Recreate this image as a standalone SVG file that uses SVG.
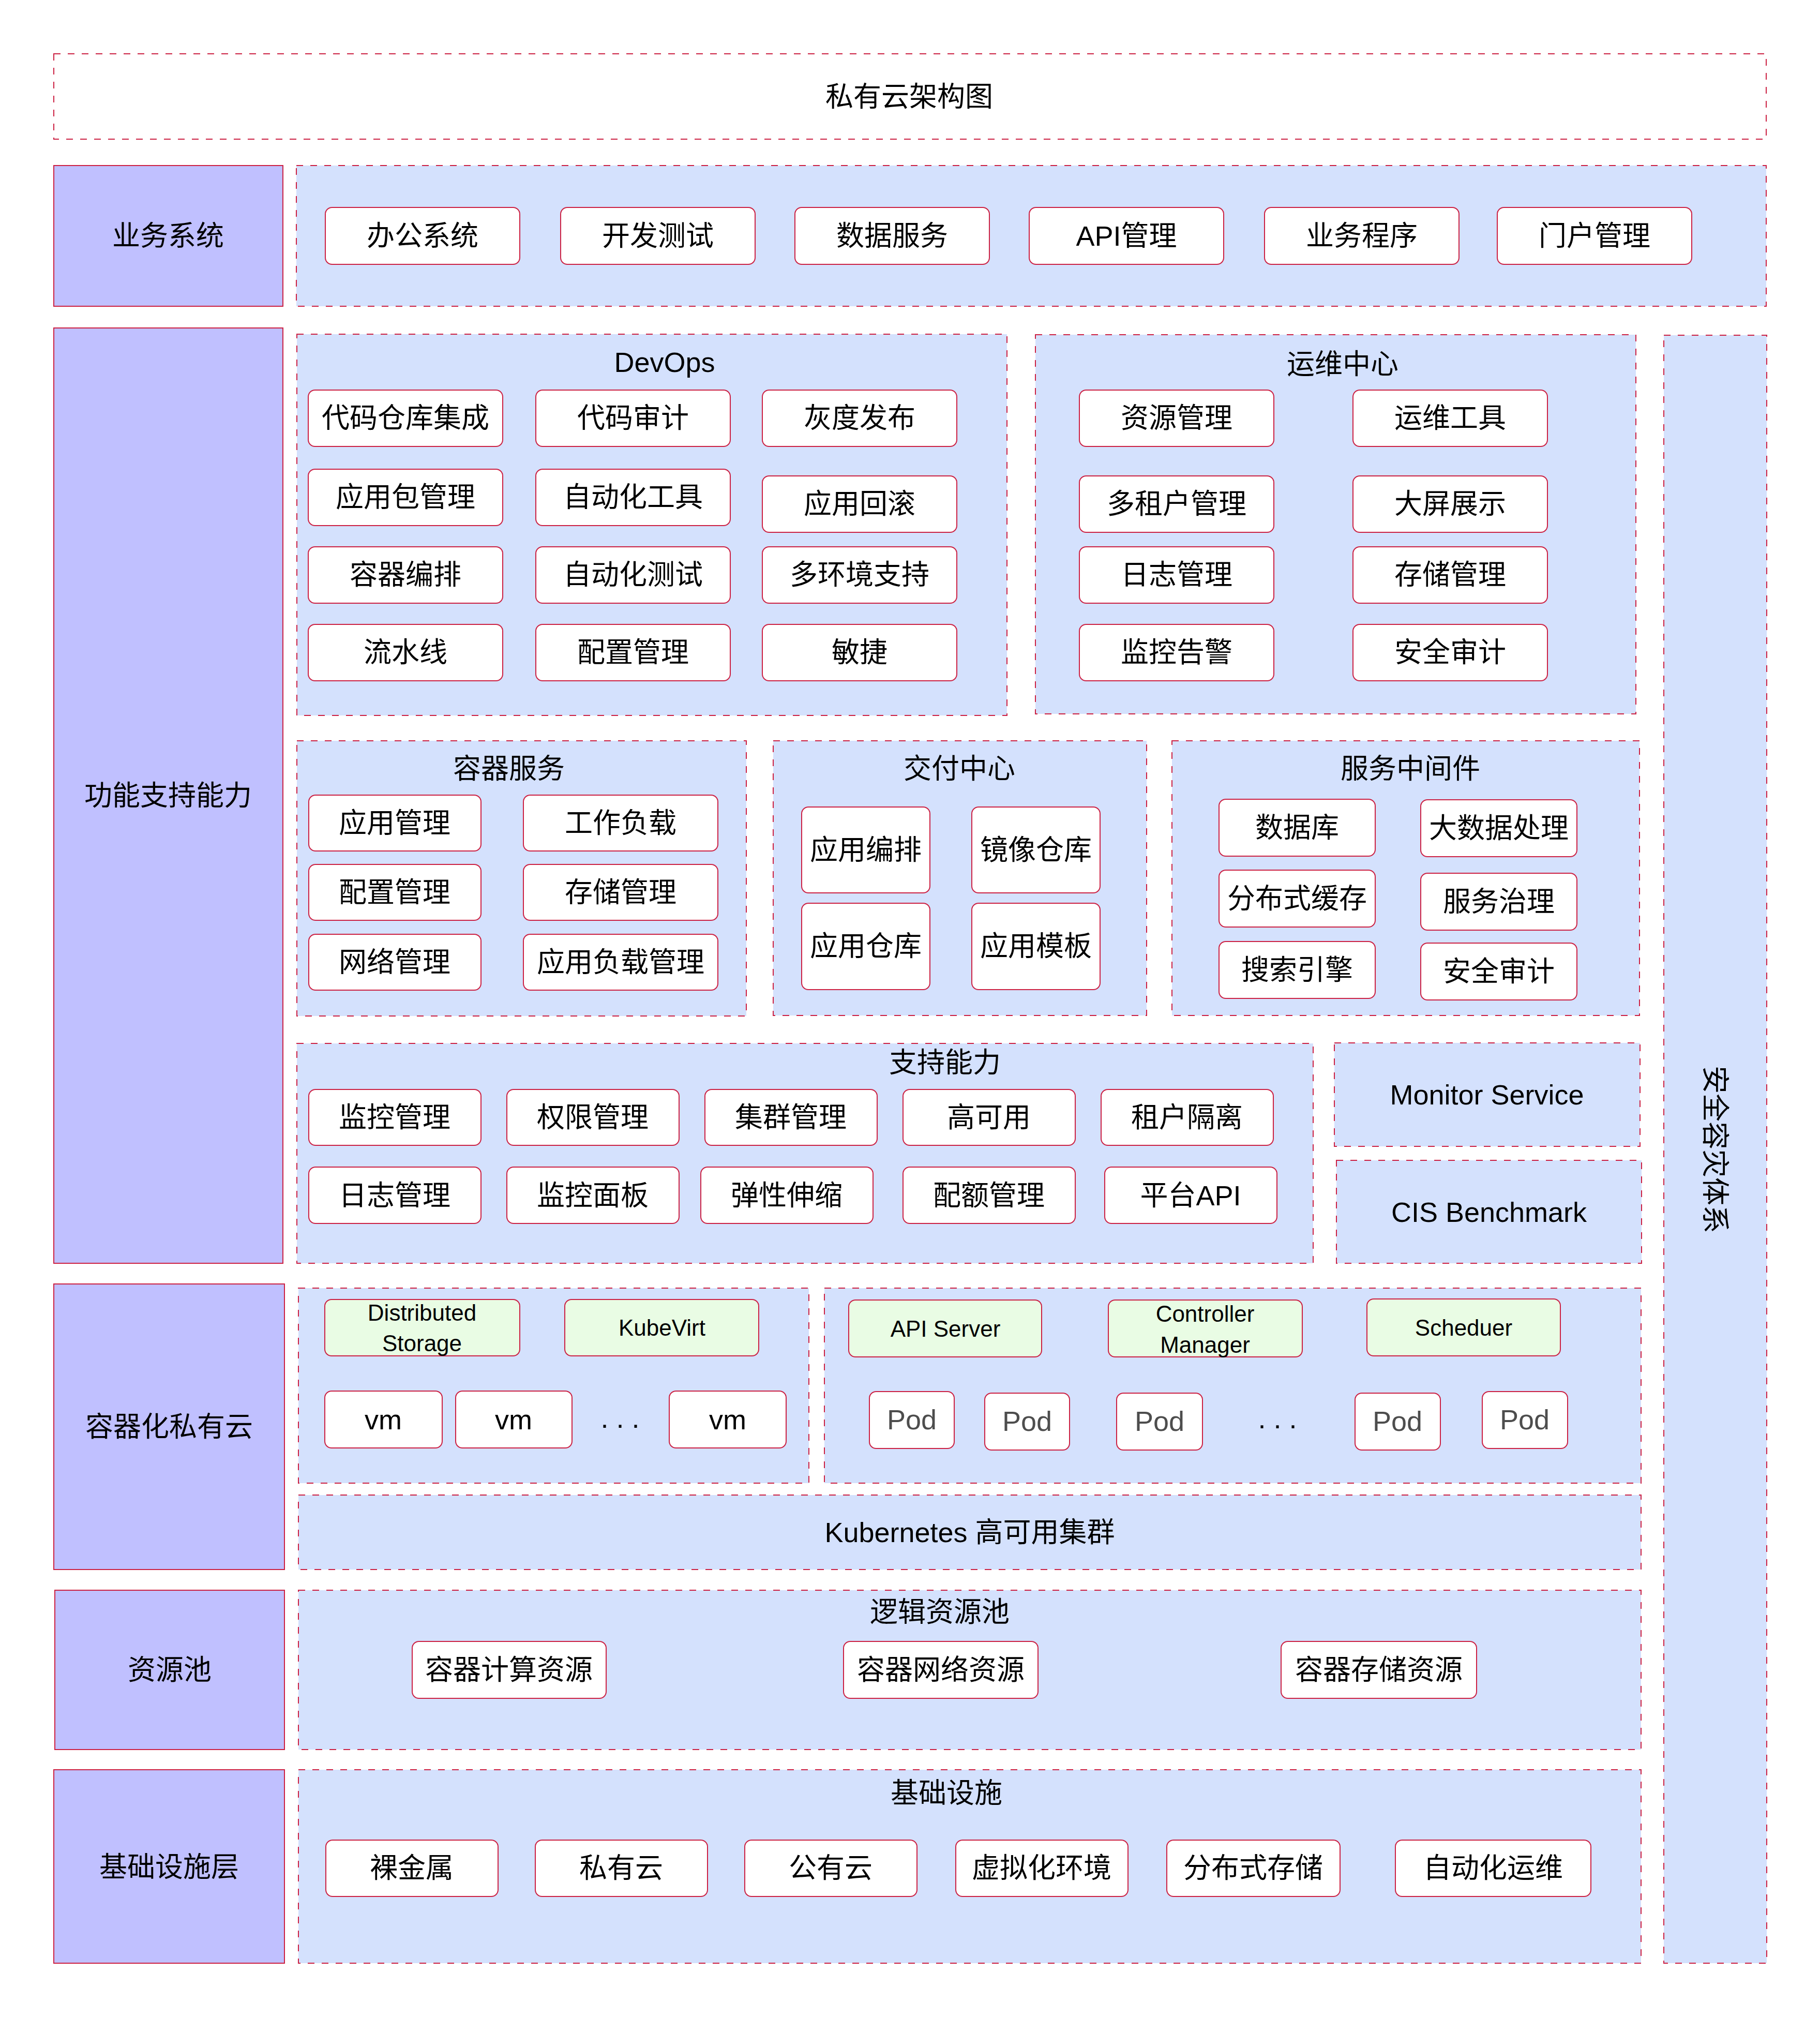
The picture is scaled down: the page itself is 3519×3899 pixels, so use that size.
<svg xmlns="http://www.w3.org/2000/svg" width="3519" height="3899" viewBox="0 0 3519 3899">
<style>
.bg{fill:#FFFFFF}
.lbl{fill:#C0C0FF;stroke:#CC2244;stroke-width:2}
.grp{fill:#D4E1FD;stroke:#CC2244;stroke-width:2;stroke-dasharray:13 14}
.ttl{fill:#FFFFFF;stroke:#CC2244;stroke-width:2;stroke-dasharray:13 14}
.box{fill:#FFFFFF;stroke:#CC2244;stroke-width:2}
.gbox{fill:#E9FCE4;stroke:#CC2244;stroke-width:2}
text{font-family:"Liberation Sans","Noto Sans CJK SC",sans-serif;font-size:54px;fill:#000000;text-anchor:middle}
.ts{font-size:44px}
.tp{fill:#4D4D4D}
</style>
<rect class="bg" x="0" y="0" width="3519" height="3899"/>

<g id="title">
<rect class="ttl" x="104" y="104" width="3311" height="165"/>
<text x="1758" y="206">私有云架构图</text>
</g>

<!-- left layer labels -->
<g id="label-business"><rect class="lbl" x="104" y="320" width="443" height="272"/><text x="325" y="475">业务系统</text></g>
<g id="label-function"><rect class="lbl" x="104" y="634" width="443" height="1808"/><text x="325" y="1557">功能支持能力</text></g>
<g id="label-container"><rect class="lbl" x="104" y="2482" width="446" height="552"/><text x="327" y="2777">容器化私有云</text></g>
<g id="label-pool"><rect class="lbl" x="106" y="3074" width="444" height="308"/><text x="328" y="3247">资源池</text></g>
<g id="label-infra"><rect class="lbl" x="104" y="3421" width="446" height="374"/><text x="327" y="3628">基础设施层</text></g>

<!-- business systems -->
<g id="business">
<rect class="grp" x="573" y="320" width="2842" height="272"/>
<g id="b1"><rect class="box" x="629" y="401" width="376" height="110" rx="13"/><text x="817" y="475">办公系统</text></g>
<g id="b2"><rect class="box" x="1084" y="401" width="376" height="110" rx="13"/><text x="1272" y="475">开发测试</text></g>
<g id="b3"><rect class="box" x="1537" y="401" width="376" height="110" rx="13"/><text x="1725" y="475">数据服务</text></g>
<g id="b4"><rect class="box" x="1990" y="401" width="376" height="110" rx="13"/><text x="2178" y="475">API管理</text></g>
<g id="b5"><rect class="box" x="2445" y="401" width="376" height="110" rx="13"/><text x="2633" y="475">业务程序</text></g>
<g id="b6"><rect class="box" x="2895" y="401" width="376" height="110" rx="13"/><text x="3083" y="475">门户管理</text></g>
</g>

<!-- DevOps -->
<g id="devops">
<rect class="grp" x="574" y="646" width="1373" height="737"/>
<text x="1285" y="719">DevOps</text>
<g id="d1"><rect class="box" x="596" y="754" width="376" height="109" rx="13"/><text x="784" y="827">代码仓库集成</text></g>
<g id="d2"><rect class="box" x="1036" y="754" width="376" height="109" rx="13"/><text x="1224" y="827">代码审计</text></g>
<g id="d3"><rect class="box" x="1474" y="754" width="376" height="109" rx="13"/><text x="1662" y="827">灰度发布</text></g>
<g id="d4"><rect class="box" x="596" y="907" width="376" height="109" rx="13"/><text x="784" y="980">应用包管理</text></g>
<g id="d5"><rect class="box" x="1036" y="907" width="376" height="109" rx="13"/><text x="1224" y="980">自动化工具</text></g>
<g id="d6"><rect class="box" x="1474" y="920" width="376" height="109" rx="13"/><text x="1662" y="993">应用回滚</text></g>
<g id="d7"><rect class="box" x="596" y="1057" width="376" height="109" rx="13"/><text x="784" y="1130">容器编排</text></g>
<g id="d8"><rect class="box" x="1036" y="1057" width="376" height="109" rx="13"/><text x="1224" y="1130">自动化测试</text></g>
<g id="d9"><rect class="box" x="1474" y="1057" width="376" height="109" rx="13"/><text x="1662" y="1130">多环境支持</text></g>
<g id="d10"><rect class="box" x="596" y="1207" width="376" height="109" rx="13"/><text x="784" y="1280">流水线</text></g>
<g id="d11"><rect class="box" x="1036" y="1207" width="376" height="109" rx="13"/><text x="1224" y="1280">配置管理</text></g>
<g id="d12"><rect class="box" x="1474" y="1207" width="376" height="109" rx="13"/><text x="1662" y="1280">敏捷</text></g>
</g>

<!-- Ops center -->
<g id="ops">
<rect class="grp" x="2002" y="647" width="1161" height="733"/>
<text x="2596" y="723">运维中心</text>
<g id="o1"><rect class="box" x="2087" y="754" width="376" height="109" rx="13"/><text x="2275" y="827">资源管理</text></g>
<g id="o2"><rect class="box" x="2616" y="754" width="376" height="109" rx="13"/><text x="2804" y="827">运维工具</text></g>
<g id="o3"><rect class="box" x="2087" y="920" width="376" height="109" rx="13"/><text x="2275" y="993">多租户管理</text></g>
<g id="o4"><rect class="box" x="2616" y="920" width="376" height="109" rx="13"/><text x="2804" y="993">大屏展示</text></g>
<g id="o5"><rect class="box" x="2087" y="1057" width="376" height="109" rx="13"/><text x="2275" y="1130">日志管理</text></g>
<g id="o6"><rect class="box" x="2616" y="1057" width="376" height="109" rx="13"/><text x="2804" y="1130">存储管理</text></g>
<g id="o7"><rect class="box" x="2087" y="1207" width="376" height="109" rx="13"/><text x="2275" y="1280">监控告警</text></g>
<g id="o8"><rect class="box" x="2616" y="1207" width="376" height="109" rx="13"/><text x="2804" y="1280">安全审计</text></g>
</g>

<!-- Container services -->
<g id="container-svc">
<rect class="grp" x="574" y="1432" width="869" height="532"/>
<text x="984" y="1505">容器服务</text>
<g id="c1"><rect class="box" x="597" y="1537" width="333" height="108" rx="13"/><text x="763" y="1610">应用管理</text></g>
<g id="c2"><rect class="box" x="1012" y="1537" width="376" height="108" rx="13"/><text x="1200" y="1610">工作负载</text></g>
<g id="c3"><rect class="box" x="597" y="1671" width="333" height="108" rx="13"/><text x="763" y="1744">配置管理</text></g>
<g id="c4"><rect class="box" x="1012" y="1671" width="376" height="108" rx="13"/><text x="1200" y="1744">存储管理</text></g>
<g id="c5"><rect class="box" x="597" y="1806" width="333" height="108" rx="13"/><text x="763" y="1879">网络管理</text></g>
<g id="c6"><rect class="box" x="1012" y="1806" width="376" height="108" rx="13"/><text x="1200" y="1879">应用负载管理</text></g>
</g>

<!-- Delivery center -->
<g id="delivery">
<rect class="grp" x="1495" y="1432" width="722" height="531"/>
<text x="1855" y="1505">交付中心</text>
<g id="j1"><rect class="box" x="1550" y="1560" width="248" height="166" rx="13"/><text x="1674" y="1662">应用编排</text></g>
<g id="j2"><rect class="box" x="1879" y="1560" width="248" height="166" rx="13"/><text x="2003" y="1662">镜像仓库</text></g>
<g id="j3"><rect class="box" x="1550" y="1746" width="248" height="167" rx="13"/><text x="1674" y="1848">应用仓库</text></g>
<g id="j4"><rect class="box" x="1879" y="1746" width="248" height="167" rx="13"/><text x="2003" y="1848">应用模板</text></g>
</g>

<!-- Middleware -->
<g id="middleware">
<rect class="grp" x="2266" y="1432" width="904" height="531"/>
<text x="2727" y="1505">服务中间件</text>
<g id="m1"><rect class="box" x="2357" y="1545" width="302" height="110" rx="13"/><text x="2508" y="1619">数据库</text></g>
<g id="m2"><rect class="box" x="2747" y="1546" width="302" height="110" rx="13"/><text x="2898" y="1620">大数据处理</text></g>
<g id="m3"><rect class="box" x="2357" y="1682" width="302" height="110" rx="13"/><text x="2508" y="1756">分布式缓存</text></g>
<g id="m4"><rect class="box" x="2747" y="1688" width="302" height="110" rx="13"/><text x="2898" y="1762">服务治理</text></g>
<g id="m5"><rect class="box" x="2357" y="1820" width="302" height="110" rx="13"/><text x="2508" y="1894">搜索引擎</text></g>
<g id="m6"><rect class="box" x="2747" y="1823" width="302" height="110" rx="13"/><text x="2898" y="1897">安全审计</text></g>
</g>

<!-- Support capabilities -->
<g id="support">
<rect class="grp" x="574" y="2017" width="1965" height="425"/>
<text x="1827" y="2073">支持能力</text>
<g id="s1"><rect class="box" x="597" y="2106" width="333" height="108" rx="13"/><text x="763" y="2179">监控管理</text></g>
<g id="s2"><rect class="box" x="980" y="2106" width="333" height="108" rx="13"/><text x="1146" y="2179">权限管理</text></g>
<g id="s3"><rect class="box" x="1363" y="2106" width="333" height="108" rx="13"/><text x="1529" y="2179">集群管理</text></g>
<g id="s4"><rect class="box" x="1746" y="2106" width="333" height="108" rx="13"/><text x="1912" y="2179">高可用</text></g>
<g id="s5"><rect class="box" x="2129" y="2106" width="333" height="108" rx="13"/><text x="2295" y="2179">租户隔离</text></g>
<g id="s6"><rect class="box" x="597" y="2256" width="333" height="109" rx="13"/><text x="763" y="2330">日志管理</text></g>
<g id="s7"><rect class="box" x="980" y="2256" width="333" height="109" rx="13"/><text x="1146" y="2330">监控面板</text></g>
<g id="s8"><rect class="box" x="1355" y="2256" width="333" height="109" rx="13"/><text x="1521" y="2330">弹性伸缩</text></g>
<g id="s9"><rect class="box" x="1746" y="2256" width="333" height="109" rx="13"/><text x="1912" y="2330">配额管理</text></g>
<g id="s10"><rect class="box" x="2136" y="2256" width="333" height="109" rx="13"/><text x="2302" y="2330">平台API</text></g>
</g>

<g id="monitor"><rect class="grp" x="2580" y="2016" width="591" height="200"/><text x="2875" y="2135">Monitor Service</text></g>
<g id="cis"><rect class="grp" x="2584" y="2243" width="590" height="199"/><text x="2879" y="2362">CIS Benchmark</text></g>

<!-- right column -->
<g id="security">
<rect class="grp" x="3217" y="648" width="199" height="3147"/>
<text transform="translate(3316,2222) rotate(90)" x="0" y="19">安全容灾体系</text>
</g>

<!-- containerized private cloud -->
<g id="kubevirt-area">
<rect class="grp" x="577" y="2490" width="987" height="377"/>
<g id="dstorage"><rect class="gbox" x="628" y="2512" width="377" height="109" rx="13"/><text class="ts" x="816" y="2553">Distributed</text><text class="ts" x="816" y="2612">Storage</text></g>
<g id="kubevirt"><rect class="gbox" x="1092" y="2512" width="375" height="109" rx="13"/><text class="ts" x="1280" y="2582">KubeVirt</text></g>
<g id="vm1"><rect class="box" x="628" y="2689" width="227" height="110" rx="13"/><text x="741" y="2763">vm</text></g>
<g id="vm2"><rect class="box" x="881" y="2689" width="225" height="110" rx="13"/><text x="993" y="2763">vm</text></g>
<text x="1199" y="2760">. . .</text>
<g id="vm3"><rect class="box" x="1294" y="2689" width="226" height="110" rx="13"/><text x="1407" y="2763">vm</text></g>
</g>

<g id="k8s-area">
<rect class="grp" x="1594" y="2490" width="1579" height="377"/>
<g id="apiserver"><rect class="gbox" x="1641" y="2513" width="373" height="110" rx="13"/><text class="ts" x="1828" y="2584">API Server</text></g>
<g id="controller"><rect class="gbox" x="2143" y="2513" width="375" height="110" rx="13"/><text class="ts" x="2330" y="2555">Controller</text><text class="ts" x="2330" y="2615">Manager</text></g>
<g id="scheduler"><rect class="gbox" x="2643" y="2511" width="374" height="110" rx="13"/><text class="ts" x="2830" y="2582">Scheduer</text></g>
<g id="pod1"><rect class="box" x="1681" y="2690" width="164" height="110" rx="13"/><text class="tp" x="1763" y="2763">Pod</text></g>
<g id="pod2"><rect class="box" x="1904" y="2693" width="164" height="110" rx="13"/><text class="tp" x="1986" y="2766">Pod</text></g>
<g id="pod3"><rect class="box" x="2159" y="2693" width="166" height="110" rx="13"/><text class="tp" x="2242" y="2766">Pod</text></g>
<text x="2470" y="2761">. . .</text>
<g id="pod4"><rect class="box" x="2620" y="2693" width="165" height="110" rx="13"/><text class="tp" x="2702" y="2766">Pod</text></g>
<g id="pod5"><rect class="box" x="2866" y="2690" width="165" height="110" rx="13"/><text class="tp" x="2948" y="2763">Pod</text></g>
</g>

<g id="k8s-cluster"><rect class="grp" x="577" y="2890" width="2596" height="144"/><text x="1875" y="2981">Kubernetes 高可用集群</text></g>

<!-- resource pool -->
<g id="pool">
<rect class="grp" x="577" y="3074" width="2596" height="308"/>
<text x="1817" y="3135">逻辑资源池</text>
<g id="p1"><rect class="box" x="797" y="3173" width="375" height="110" rx="13"/><text x="984" y="3247">容器计算资源</text></g>
<g id="p2"><rect class="box" x="1631" y="3173" width="376" height="110" rx="13"/><text x="1819" y="3247">容器网络资源</text></g>
<g id="p3"><rect class="box" x="2477" y="3173" width="378" height="110" rx="13"/><text x="2666" y="3247">容器存储资源</text></g>
</g>

<!-- infrastructure -->
<g id="infra">
<rect class="grp" x="577" y="3421" width="2596" height="374"/>
<text x="1830" y="3485">基础设施</text>
<g id="i1"><rect class="box" x="630" y="3557" width="333" height="109" rx="13"/><text x="796" y="3630">裸金属</text></g>
<g id="i2"><rect class="box" x="1035" y="3557" width="333" height="109" rx="13"/><text x="1201" y="3630">私有云</text></g>
<g id="i3"><rect class="box" x="1440" y="3557" width="333" height="109" rx="13"/><text x="1606" y="3630">公有云</text></g>
<g id="i4"><rect class="box" x="1848" y="3557" width="333" height="109" rx="13"/><text x="2014" y="3630">虚拟化环境</text></g>
<g id="i5"><rect class="box" x="2256" y="3557" width="335" height="109" rx="13"/><text x="2423" y="3630">分布式存储</text></g>
<g id="i6"><rect class="box" x="2698" y="3557" width="378" height="109" rx="13"/><text x="2887" y="3630">自动化运维</text></g>
</g>

<g id="connectors"></g>
</svg>
